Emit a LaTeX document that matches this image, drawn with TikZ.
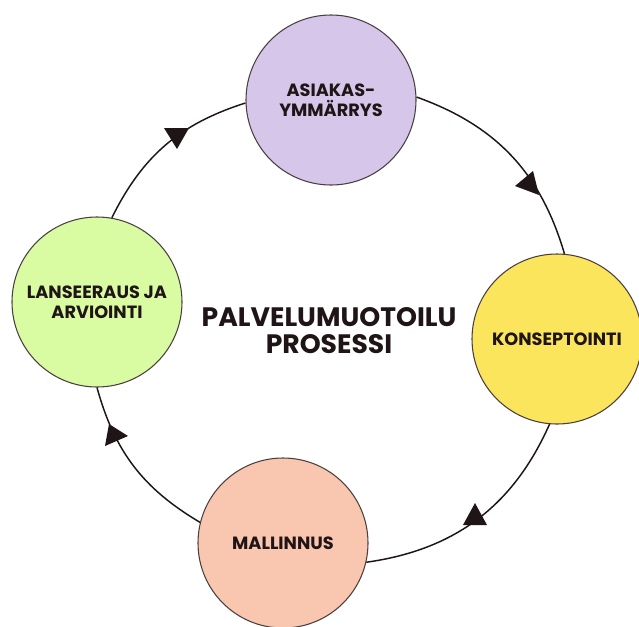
\documentclass[tikz,border=0pt]{standalone}
\usepackage{fontspec}
\setmainfont{Poppins}
\definecolor{ink}{HTML}{1F1416}
\definecolor{edge}{HTML}{4A3F40}
\definecolor{cpurple}{HTML}{D6C6EA}
\definecolor{cyellow}{HTML}{FBE55C}
\definecolor{csalmon}{HTML}{F9C6B0}
\definecolor{cgreen}{HTML}{D9FBA2}
\tikzset{
  phase/.style={circle, draw=edge, line width=0.8pt, minimum size=127.5pt, inner sep=0pt,
    align=center, text=ink, font=\bfseries\fontsize{13.3}{15}\selectfont},
  conn/.style={draw=ink, line width=1.1pt},
  tip/.style={fill=ink},
  title/.style={align=center, text=ink, font=\bfseries\fontsize{20}{20.3}\selectfont}
}
\begin{document}
\begin{tikzpicture}[x=0.75pt,y=-0.75pt]
\useasboundingbox (0,0) rectangle (639,626);
\clip (0,0) rectangle (639,626);
\fill[white] (0,0) rectangle (639,626);

\node[phase, fill=cpurple] (top) at (331,100) {ASIAKAS-\\YMMÄRRYS};
\node[phase, fill=cyellow] (right) at (557,339) {KONSEPTOINTI};
\node[phase, fill=csalmon] (bottom) at (283,543) {MALLINNUS};
\node[phase, fill=cgreen] (left) at (97,302) {LANSEERAUS JA\\ARVIOINTI};

\node[title] (t) at (329,331) {PALVELUMUOTOILU\\PROSESSI};

\draw[conn] (top.2) to[bend left=27] (right.85);
\draw[conn] (right.265) to[bend left=29] (bottom.347);
\draw[conn] (bottom.166) to[bend left=22] (left.270);
\draw[conn] (left.80) to[bend left=23] (top.182);

\fill[tip] (164,128) -- (189,128) -- (177,149) -- cycle;
\fill[tip] (515,186) -- (533,171) -- (539,195) -- cycle;
\fill[tip] (475,503) -- (463,525) -- (487,525) -- cycle;
\fill[tip] (109,424) -- (128,436) -- (105,446) -- cycle;
\end{tikzpicture}
\end{document}
